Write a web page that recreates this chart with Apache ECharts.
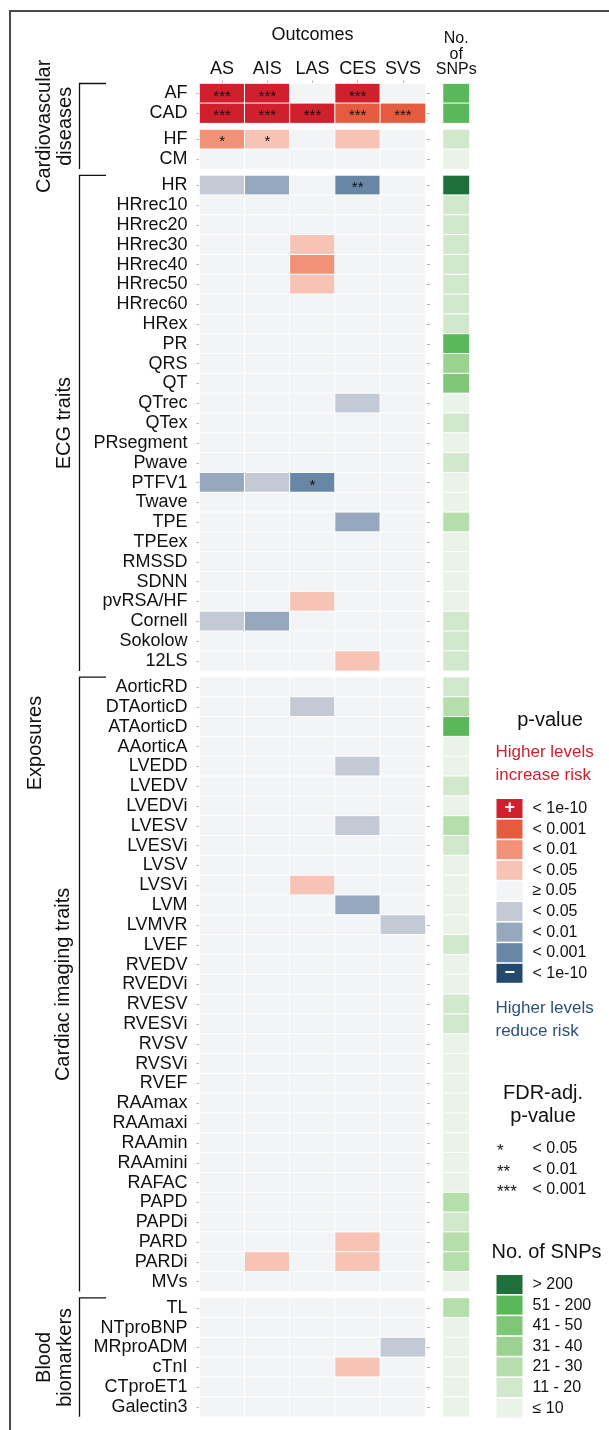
<!DOCTYPE html>
<html><head><meta charset="utf-8">
<script src="https://cdn.jsdelivr.net/npm/echarts@6/dist/echarts.min.js"></script>
<style>html,body{margin:0;padding:0;background:#fff;}#c{width:609px;height:1430px;}</style>
</head><body><div id="c"></div>
<script>
// ---------- DATA ----------
const outcomes = ['AS', 'AIS', 'LAS', 'CES', 'SVS'];
const snpHeader = ['No.\nof\nSNPs'];

// p-value class: 4 (<1e-10, risk up) ... 0 (>=0.05) ... -4 (<1e-10, risk down)
// SNP class: 6 (>200), 5 (51-200), 4 (41-50), 3 (31-40), 2 (21-30), 1 (11-20), 0 (<=10)

const rowsCVD1 = ['AF', 'CAD'];
const pCVD1 = [[4, 4, 0, 4, 0], [4, 4, 4, 3, 3]];
const starsCVD1 = [['***', '***', '', '***', ''], ['***', '***', '***', '***', '***']];
const snpCVD1 = [5, 5];

const rowsCVD2 = ['HF', 'CM'];
const pCVD2 = [[2, 1, 0, 1, 0], [0, 0, 0, 0, 0]];
const starsCVD2 = [['*', '*', '', '', ''], ['', '', '', '', '']];
const snpCVD2 = [1, 0];

const rowsECG = ['HR', 'HRrec10', 'HRrec20', 'HRrec30', 'HRrec40', 'HRrec50', 'HRrec60', 'HRex', 'PR', 'QRS', 'QT', 'QTrec', 'QTex', 'PRsegment', 'Pwave', 'PTFV1', 'Twave', 'TPE', 'TPEex', 'RMSSD', 'SDNN', 'pvRSA/HF', 'Cornell', 'Sokolow', '12LS'];
const pECG = [
  [-1, -2, 0, -3, 0], [0, 0, 0, 0, 0], [0, 0, 0, 0, 0], [0, 0, 1, 0, 0], [0, 0, 2, 0, 0],
  [0, 0, 1, 0, 0], [0, 0, 0, 0, 0], [0, 0, 0, 0, 0], [0, 0, 0, 0, 0], [0, 0, 0, 0, 0],
  [0, 0, 0, 0, 0], [0, 0, 0, -1, 0], [0, 0, 0, 0, 0], [0, 0, 0, 0, 0], [0, 0, 0, 0, 0],
  [-2, -1, -3, 0, 0], [0, 0, 0, 0, 0], [0, 0, 0, -2, 0], [0, 0, 0, 0, 0], [0, 0, 0, 0, 0],
  [0, 0, 0, 0, 0], [0, 0, 1, 0, 0], [-1, -2, 0, 0, 0], [0, 0, 0, 0, 0], [0, 0, 0, 1, 0]
];
const starsECG = { 'HR': ['', '', '', '**', ''], 'PTFV1': ['', '', '*', '', ''] };
const snpECG = [6, 1, 1, 1, 1, 1, 1, 1, 5, 3, 4, 0, 1, 0, 1, 0, 0, 2, 0, 0, 0, 0, 1, 1, 1];

const rowsCardiac = ['AorticRD', 'DTAorticD', 'ATAorticD', 'AAorticA', 'LVEDD', 'LVEDV', 'LVEDVi', 'LVESV', 'LVESVi', 'LVSV', 'LVSVi', 'LVM', 'LVMVR', 'LVEF', 'RVEDV', 'RVEDVi', 'RVESV', 'RVESVi', 'RVSV', 'RVSVi', 'RVEF', 'RAAmax', 'RAAmaxi', 'RAAmin', 'RAAmini', 'RAFAC', 'PAPD', 'PAPDi', 'PARD', 'PARDi', 'MVs'];
const pCardiac = [
  [0, 0, 0, 0, 0], [0, 0, -1, 0, 0], [0, 0, 0, 0, 0], [0, 0, 0, 0, 0], [0, 0, 0, -1, 0],
  [0, 0, 0, 0, 0], [0, 0, 0, 0, 0], [0, 0, 0, -1, 0], [0, 0, 0, 0, 0], [0, 0, 0, 0, 0],
  [0, 0, 1, 0, 0], [0, 0, 0, -2, 0], [0, 0, 0, 0, -1], [0, 0, 0, 0, 0], [0, 0, 0, 0, 0],
  [0, 0, 0, 0, 0], [0, 0, 0, 0, 0], [0, 0, 0, 0, 0], [0, 0, 0, 0, 0], [0, 0, 0, 0, 0],
  [0, 0, 0, 0, 0], [0, 0, 0, 0, 0], [0, 0, 0, 0, 0], [0, 0, 0, 0, 0], [0, 0, 0, 0, 0],
  [0, 0, 0, 0, 0], [0, 0, 0, 0, 0], [0, 0, 0, 0, 0], [0, 0, 0, 1, 0], [0, 1, 0, 1, 0],
  [0, 0, 0, 0, 0]
];
const snpCardiac = [1, 2, 5, 0, 0, 1, 0, 2, 1, 0, 0, 0, 0, 1, 0, 0, 1, 1, 0, 0, 0, 0, 0, 0, 0, 0, 2, 1, 2, 2, 0];

const rowsBlood = ['TL', 'NTproBNP', 'MRproADM', 'cTnI', 'CTproET1', 'Galectin3'];
const pBlood = [[0, 0, 0, 0, 0], [0, 0, 0, 0, 0], [0, 0, 0, 0, -1], [0, 0, 0, 1, 0], [0, 0, 0, 0, 0], [0, 0, 0, 0, 0]];
const snpBlood = [2, 0, 0, 0, 0, 0];

const pLevels = [4, 3, 2, 1, 0, -1, -2, -3, -4];
const pLabels = ['< 1e-10', '< 0.001', '< 0.01', '< 0.05', '\u2265 0.05', '< 0.05', '< 0.01', '< 0.001', '< 1e-10'];
const pColors = ['#d0202e', '#e45b3f', '#f09178', '#f7c3b5', '#f3f4f6', '#c3cad6', '#96a8bd', '#6886a5', '#234a6d'];

const snpLevels = [6, 5, 4, 3, 2, 1, 0];
const snpLabels = ['> 200', '51 - 200', '41 - 50', '31 - 40', '21 - 30', '11 - 20', '\u2264 10'];
const snpColors = ['#1f6f3b', '#5bb85a', '#7ec776', '#9bd290', '#b5deac', '#d2e8cd', '#eaf3e7'];

const fdrStars = ['*', '**', '***'];
const fdrLabels = ['< 0.05', '< 0.01', '< 0.001'];

// ---------- LAYOUT ----------
const FONT = '"Liberation Sans", Arial, Helvetica, sans-serif';
const ROW_H = 19.82, GAP = 6.3, TOP0 = 83.5;
const HM_LEFT = 199.5, HM_W = 226, SNP_LEFT = 443, SNP_W = 26.5;

function starsFor(rows, obj) { return rows.map(r => obj[r] || ['', '', '', '', '']); }
const groups = [
  { rows: rowsCVD1, p: pCVD1, stars: starsCVD1, snp: snpCVD1 },
  { rows: rowsCVD2, p: pCVD2, stars: starsCVD2, snp: snpCVD2 },
  { rows: rowsECG, p: pECG, stars: starsFor(rowsECG, starsECG), snp: snpECG },
  { rows: rowsCardiac, p: pCardiac, stars: starsFor(rowsCardiac, {}), snp: snpCardiac },
  { rows: rowsBlood, p: pBlood, stars: starsFor(rowsBlood, {}), snp: snpBlood }
];
let cur = TOP0;
groups.forEach(g => { g.top = cur; g.height = g.rows.length * ROW_H; cur += g.height + GAP; });

const grid = [], xAxis = [], yAxis = [], series = [];
const tickStyle = { show: true, length: 3, alignWithLabel: true, lineStyle: { color: '#b0b0b0', width: 1 } };
groups.forEach((g, gi) => {
  grid.push({ left: HM_LEFT, width: HM_W, top: g.top, height: g.height });
  xAxis.push({
    type: 'category', gridIndex: gi, data: outcomes, position: 'top', show: gi === 0,
    axisLine: { show: false }, axisTick: tickStyle,
    axisLabel: { fontSize: 18, color: '#111', margin: 5, fontFamily: FONT, interval: 0 }
  });
  yAxis.push({
    type: 'category', gridIndex: gi, data: g.rows, inverse: true,
    axisLine: { show: false }, axisTick: tickStyle,
    axisLabel: { fontSize: 18, color: '#111', margin: 12, fontFamily: FONT, interval: 0 }
  });
  const data = [];
  g.p.forEach((row, yi) => row.forEach((v, xi) => data.push([xi, yi, v])));
  const st = g.stars;
  series.push({
    type: 'heatmap', xAxisIndex: gi, yAxisIndex: gi, data: data,
    itemStyle: { borderColor: '#fff', borderWidth: 1 },
    label: {
      show: true, fontSize: 15, color: '#111', offset: [0, 3],
      formatter: p => st[p.value[1]][p.value[0]]
    },
    emphasis: { disabled: true }, silent: true
  });
});
groups.forEach((g, gi) => {
  const gIdx = groups.length + gi;
  grid.push({ left: SNP_LEFT, width: SNP_W, top: g.top, height: g.height });
  xAxis.push({
    type: 'category', gridIndex: gIdx, data: snpHeader, position: 'top', show: gi === 0,
    axisLine: { show: false }, axisTick: { show: false },
    axisLabel: { fontSize: 16, color: '#111', margin: 6, lineHeight: 15.5, fontFamily: FONT, align: 'center', interval: 0 }
  });
  yAxis.push({
    type: 'category', gridIndex: gIdx, data: g.rows, inverse: true, offset: 13,
    axisLine: { show: false }, axisTick: tickStyle, axisLabel: { show: false }
  });
  series.push({
    type: 'heatmap', xAxisIndex: gIdx, yAxisIndex: gIdx,
    data: g.snp.map((v, yi) => [0, yi, v]),
    itemStyle: { borderColor: '#fff', borderWidth: 1 },
    emphasis: { disabled: true }, silent: true
  });
});

// group labels & brackets
const graphic = [];
graphic.push({ type: 'rect', shape: { x: 10, y: 11, width: 800, height: 1600 }, style: { fill: 'none', stroke: '#4a4a4a', lineWidth: 2 }, silent: true });
function bracket(top, bottom) {
  graphic.push({ type: 'polyline', shape: { points: [[106, top], [79.5, top], [79.5, bottom]] }, style: { stroke: '#111', lineWidth: 1.3, fill: 'none' }, silent: true });
}
const gb = i => [groups[i].top, groups[i].top + groups[i].height];
bracket(gb(0)[0], gb(1)[1]);
bracket(gb(2)[0], gb(2)[1]);
bracket(gb(3)[0], gb(3)[1]);
bracket(gb(4)[0], gb(4)[1]);
function vtext(txt, x, y) {
  graphic.push({ type: 'text', x: x, y: y, rotation: Math.PI / 2,
    style: { text: txt, fontSize: 20, fontFamily: FONT, fill: '#111', align: 'center', verticalAlign: 'middle', lineHeight: 21 }, silent: true });
}
vtext('Cardiovascular\ndiseases', 55, (gb(0)[0] + gb(1)[1]) / 2);
vtext('ECG traits', 64, (gb(2)[0] + gb(2)[1]) / 2);
vtext('Exposures', 35, 743);
vtext('Cardiac imaging traits', 63, (gb(3)[0] + gb(3)[1]) / 2);
vtext('Blood\nbiomarkers', 55, (gb(4)[0] + gb(4)[1]) / 2);

function htext(txt, x, y, opt, z) {
  graphic.push({ type: 'text', x: x, y: y, z: z || 0, style: Object.assign({ text: txt, fontSize: 20, fontFamily: FONT, fill: '#111', align: 'center', verticalAlign: 'middle' }, opt || {}), silent: true });
}
htext('Outcomes', HM_LEFT + HM_W / 2, 35.5, { fontSize: 18 });
htext('p-value', 550, 720);
htext('Higher levels\nincrease risk', 495.5, 763.5, { fontSize: 17, lineHeight: 23, align: 'left', fill: '#d0202e' });
htext('Higher levels\nreduce risk', 495.5, 1019.5, { fontSize: 17, lineHeight: 23, align: 'left', fill: '#2b5275' });
htext('+', 509.7, 808.5, { fontSize: 18, fill: '#fff', fontWeight: 'bold' }, 100);
htext('\u2212', 509.7, 973.5, { fontSize: 18, fill: '#fff', fontWeight: 'bold' }, 100);
htext('FDR-adj.\np-value', 543, 1104.5, { lineHeight: 23 });
fdrStars.forEach((s, i) => {
  htext(s, 497, 1151.5 + i * 20.5, { fontSize: 17, align: 'left' });
  htext(fdrLabels[i], 532.5, 1149 + i * 20.5, { fontSize: 16, align: 'left' });
});
htext('No. of SNPs', 546.5, 1252);

const chart = echarts.init(document.getElementById('c'), null, { renderer: 'canvas' });
chart.setOption({
  animation: false,
  backgroundColor: '#fff',
  textStyle: { fontFamily: FONT },
  grid, xAxis, yAxis, series, graphic,
  visualMap: [
    {
      type: 'piecewise', seriesIndex: [0, 1, 2, 3, 4], dimension: 2, align: 'left',
      pieces: pLevels.map((v, i) => ({ value: v, label: pLabels[i], color: pColors[i] })),
      orient: 'vertical', left: 496.5, top: 799, itemWidth: 26, itemHeight: 19, itemGap: 1.6,
      itemSymbol: 'rect', textGap: 10, selectedMode: false, hoverLink: false, padding: 0,
      textStyle: { fontSize: 16, color: '#111', fontFamily: FONT }
    },
    {
      type: 'piecewise', seriesIndex: [5, 6, 7, 8, 9], dimension: 2, align: 'left',
      pieces: snpLevels.map((v, i) => ({ value: v, label: snpLabels[i], color: snpColors[i] })),
      orient: 'vertical', left: 496.5, top: 1275, itemWidth: 26, itemHeight: 19, itemGap: 1.6,
      itemSymbol: 'rect', textGap: 10, selectedMode: false, hoverLink: false, padding: 0,
      textStyle: { fontSize: 16, color: '#111', fontFamily: FONT }
    }
  ]
});
</script></body></html>
